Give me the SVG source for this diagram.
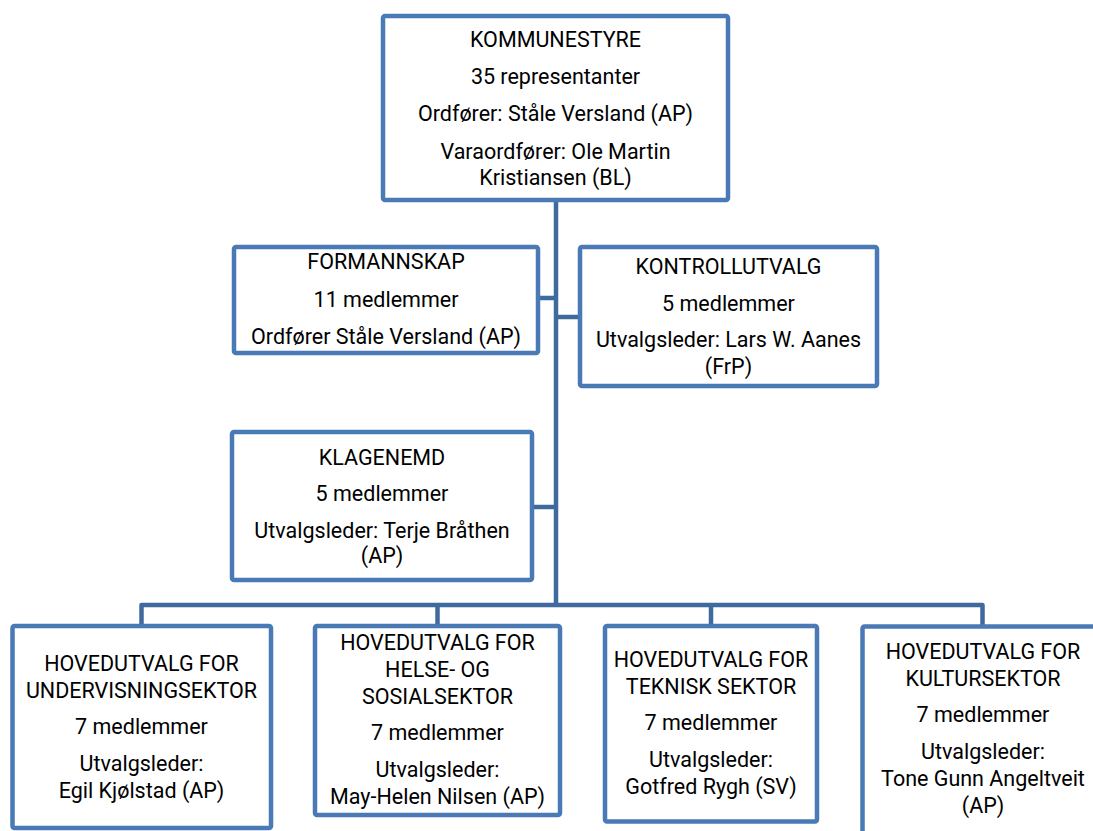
<svg xmlns="http://www.w3.org/2000/svg" width="1093" height="831" viewBox="0 0 1093 831">
  <style>
    .box { fill: #ffffff; stroke: #4A7AB5; stroke-width: 4.5; }
    .conn { fill: none; stroke: #3F6A9E; stroke-width: 4.5; stroke-linejoin: round; }
    text { font-family: Roboto, "Liberation Sans", sans-serif; font-size: 21.5px; fill: #000000; text-anchor: middle; }
  </style>
  <rect width="1093" height="831" fill="#ffffff"/>
  <g id="connectors">
    <path class="conn" d="M556,200 V605"/>
    <path class="conn" d="M538,298 H556"/>
    <path class="conn" d="M556,317 H580"/>
    <path class="conn" d="M532,507 H556"/>
    <path class="conn" d="M141.5,626 V605 H982.5 V626"/>
    <path class="conn" d="M437.5,605 V626"/>
    <path class="conn" d="M711,605 V626"/>
  </g>
  <g id="kommunestyre">
    <rect class="box" x="383" y="16" width="345" height="184" rx="2"/>
    <text x="555.5" y="47">KOMMUNESTYRE</text>
    <text x="555.5" y="83.5">35 representanter</text>
    <text x="555.5" y="121">Ordfører: Ståle Versland (AP)</text>
    <text x="555.5" y="158.5">Varaordfører: Ole Martin</text>
    <text x="555.5" y="185">Kristiansen (BL)</text>
  </g>
  <g id="formannskap">
    <rect class="box" x="234" y="247" width="304" height="106" rx="2"/>
    <text x="386" y="268.5">FORMANNSKAP</text>
    <text x="386" y="306.5">11 medlemmer</text>
    <text x="386" y="343.5">Ordfører Ståle Versland (AP)</text>
  </g>
  <g id="kontrollutvalg">
    <rect class="box" x="580" y="247" width="297" height="139" rx="2"/>
    <text x="728.5" y="273.5">KONTROLLUTVALG</text>
    <text x="728.5" y="311">5 medlemmer</text>
    <text x="728.5" y="347">Utvalgsleder: Lars W. Aanes</text>
    <text x="728.5" y="373.5">(FrP)</text>
  </g>
  <g id="klagenemd">
    <rect class="box" x="232" y="432" width="300" height="148" rx="2"/>
    <text x="382" y="464.5">KLAGENEMD</text>
    <text x="382" y="501">5 medlemmer</text>
    <text x="382" y="537.5">Utvalgsleder: Terje Bråthen</text>
    <text x="382" y="563">(AP)</text>
  </g>
  <g id="undervisning">
    <rect class="box" x="12.5" y="626" width="258.5" height="202" rx="2"/>
    <text x="141.5" y="671">HOVEDUTVALG FOR</text>
    <text x="141.5" y="698">UNDERVISNINGSEKTOR</text>
    <text x="141.5" y="734">7 medlemmer</text>
    <text x="141.5" y="771">Utvalgsleder:</text>
    <text x="141.5" y="798">Egil Kjølstad (AP)</text>
  </g>
  <g id="helse">
    <rect class="box" x="315" y="626" width="245" height="189" rx="2"/>
    <text x="437.5" y="650">HOVEDUTVALG FOR</text>
    <text x="437.5" y="677">HELSE- OG</text>
    <text x="437.5" y="704">SOSIALSEKTOR</text>
    <text x="437.5" y="740">7 medlemmer</text>
    <text x="437.5" y="777">Utvalgsleder:</text>
    <text x="437.5" y="804">May-Helen Nilsen (AP)</text>
  </g>
  <g id="teknisk">
    <rect class="box" x="605" y="626" width="212" height="195.5" rx="2"/>
    <text x="711" y="667">HOVEDUTVALG FOR</text>
    <text x="711" y="694">TEKNISK SEKTOR</text>
    <text x="711" y="730">7 medlemmer</text>
    <text x="711" y="767">Utvalgsleder:</text>
    <text x="711" y="794">Gotfred Rygh (SV)</text>
  </g>
  <g id="kultur">
    <rect class="box" x="862.5" y="626.5" width="240" height="230" rx="2"/>
    <text x="983" y="659">HOVEDUTVALG FOR</text>
    <text x="983" y="686">KULTURSEKTOR</text>
    <text x="983" y="722">7 medlemmer</text>
    <text x="983" y="759">Utvalgsleder:</text>
    <text x="983" y="786">Tone Gunn Angeltveit</text>
    <text x="983" y="813">(AP)</text>
  </g>
</svg>
